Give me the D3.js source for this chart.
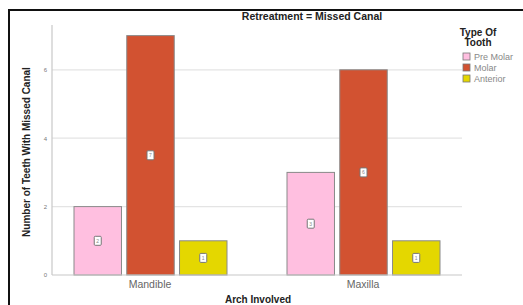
<!DOCTYPE html>
<html>
<head>
<meta charset="utf-8">
<script src="https://cdn.jsdelivr.net/npm/d3@7"></script>
<style>
  body { margin: 0; background: white; }
  svg { display: block; }
</style>
</head>
<body>
<div id="chart"></div>
<script>
const arches = ["Mandible", "Maxilla"];
const toothTypes = ["Pre Molar", "Molar", "Anterior"];
const colors = ["#ffbfe0", "#d25231", "#e4d700"];
const counts = {
  "Mandible": [2, 7, 1],
  "Maxilla": [3, 6, 1],
};
const yTicks = [0, 2, 4, 6];

const W = 523, H = 305;
const PLOT = { LEFT: 52, RIGHT: 462, TOP: 25, BOTTOM: 275 };

const svg = d3.select("#chart").append("svg")
  .attr("width", W)
  .attr("height", H)
  .style("font-family", "Arial, 'Liberation Sans', sans-serif");

// outer frame
svg.append("path")
  .attr("d", `M9,${H + 5} L9,10 L${W + 5},10`)
  .attr("fill", "none")
  .attr("stroke", "#111")
  .attr("stroke-width", 2);

const y = d3.scaleLinear().domain([0, 7.3]).range([PLOT.BOTTOM, PLOT.BOTTOM - 7.3 * 34.2]);
const x0 = d3.scaleBand().domain(arches).range([44, 470]);
const x1 = d3.scaleBand().domain(toothTypes).range([30, 183]).paddingInner(0.1);

// grid
svg.append("g")
  .selectAll("line")
  .data(yTicks.filter(d => d > 0))
  .join("line")
  .attr("x1", PLOT.LEFT)
  .attr("x2", PLOT.RIGHT)
  .attr("y1", d => y(d))
  .attr("y2", d => y(d))
  .attr("stroke", "#e4e4e4")
  .attr("stroke-width", 1.2);

// y axis
const yAxis = svg.append("g")
  .attr("transform", `translate(${PLOT.LEFT},0)`)
  .call(d3.axisLeft(y).tickValues(yTicks).tickSize(0).tickPadding(5));
yAxis.select(".domain").remove();
yAxis.selectAll("text")
  .attr("fill", "#777")
  .style("font-size", "6px");
svg.append("line")
  .attr("x1", PLOT.LEFT).attr("x2", PLOT.LEFT)
  .attr("y1", PLOT.TOP).attr("y2", PLOT.BOTTOM)
  .attr("stroke", "#c8c8c8")
  .attr("stroke-width", 1.2);

// bars
const groups = svg.append("g")
  .selectAll("g")
  .data(arches)
  .join("g")
  .attr("transform", d => `translate(${x0(d)},0)`);

const bars = groups.selectAll("g")
  .data(a => counts[a].map((v, i) => ({ type: toothTypes[i], value: v, color: colors[i] })))
  .join("g");

bars.append("rect")
  .attr("x", d => x1(d.type))
  .attr("y", d => y(d.value))
  .attr("width", x1.bandwidth())
  .attr("height", d => y(0) - y(d.value))
  .attr("fill", d => d.color)
  .attr("stroke", "#8a8a8a")
  .attr("stroke-width", 1);

// value labels
bars.append("rect")
  .attr("x", d => x1(d.type) + x1.bandwidth() / 2 - 3.5)
  .attr("y", d => (y(d.value) + y(0)) / 2 - 4.5)
  .attr("width", 7)
  .attr("height", 9)
  .attr("rx", 1)
  .attr("fill", "white")
  .attr("stroke", "#777")
  .attr("stroke-width", 1);
bars.append("text")
  .attr("x", d => x1(d.type) + x1.bandwidth() / 2)
  .attr("y", d => (y(d.value) + y(0)) / 2 + 2)
  .attr("text-anchor", "middle")
  .attr("fill", "#888")
  .style("font-size", "5px")
  .text(d => d.value);

// x axis line
svg.append("line")
  .attr("x1", PLOT.LEFT).attr("x2", PLOT.RIGHT)
  .attr("y1", PLOT.BOTTOM).attr("y2", PLOT.BOTTOM)
  .attr("stroke", "#c8c8c8")
  .attr("stroke-width", 1.2);

// category labels
svg.append("g")
  .selectAll("text")
  .data(arches)
  .join("text")
  .attr("x", d => x0(d) + 106)
  .attr("y", 288)
  .attr("text-anchor", "middle")
  .attr("fill", "#666")
  .style("font-size", "10.5px")
  .text(d => d);

// titles
svg.append("text")
  .attr("x", 312).attr("y", 20)
  .attr("text-anchor", "middle")
  .attr("fill", "#222")
  .style("font-size", "10.5px")
  .style("font-weight", 700)
  .text("Retreatment = Missed Canal");

svg.append("text")
  .attr("transform", "translate(30,152) rotate(-90)")
  .attr("text-anchor", "middle")
  .attr("fill", "#222")
  .style("font-size", "10px")
  .style("font-weight", 700)
  .text("Number of Teeth With Missed Canal");

svg.append("text")
  .attr("x", 258).attr("y", 303)
  .attr("text-anchor", "middle")
  .attr("fill", "#222")
  .style("font-size", "10px")
  .style("font-weight", 700)
  .text("Arch Involved");

// legend
const legend = svg.append("g");
legend.append("text")
  .attr("x", 478).attr("y", 36)
  .attr("text-anchor", "middle")
  .attr("fill", "#222")
  .style("font-size", "10px")
  .style("font-weight", 700)
  .selectAll("tspan")
  .data(["Type Of", "Tooth"])
  .join("tspan")
  .attr("x", 478)
  .attr("dy", (d, i) => i === 0 ? 0 : 10)
  .text(d => d);

const items = legend.selectAll("g.item")
  .data(toothTypes)
  .join("g")
  .attr("class", "item")
  .attr("transform", (d, i) => `translate(463,${53 + i * 11})`);
items.append("rect")
  .attr("width", 7).attr("height", 7)
  .attr("fill", (d, i) => colors[i])
  .attr("stroke", "#777")
  .attr("stroke-width", 0.8);
items.append("text")
  .attr("x", 11).attr("y", 6.5)
  .attr("fill", "#888")
  .style("font-size", "9px")
  .text(d => d);
</script>
</body>
</html>
